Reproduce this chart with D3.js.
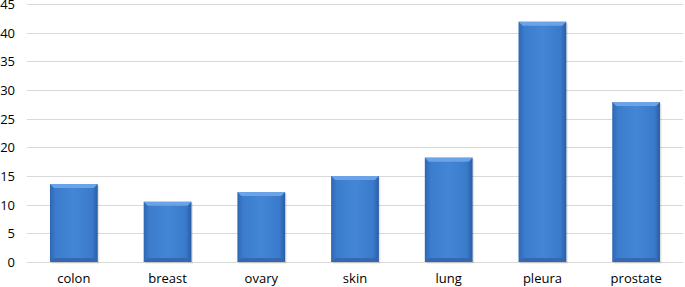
<!DOCTYPE html>
<html>
<head>
<meta charset="utf-8">
<script src="https://cdn.jsdelivr.net/npm/d3@7"></script>
<style>
  body { margin: 0; background: #fff; }
  text { font-family: "Open Sans", "Liberation Sans", sans-serif; font-size: 13px; fill: #000; }
</style>
</head>
<body>
<div id="chart"></div>
<script>
// dati
var categories = ["colon", "breast", "ovary", "skin", "lung", "pleura", "prostate"]
var values = [13.6, 10.5, 12.2, 15.0, 18.2, 41.9, 27.9]
var yTicks = [0, 5, 10, 15, 20, 25, 30, 35, 40, 45]

var width = 685, height = 287
var margin = {top: 4, right: 2, bottom: 25, left: 27}

var svg = d3.select("#chart").append("svg")
	.attr("width", width)
	.attr("height", height)

var x = d3.scaleBand()
	.domain(categories)
	.range([margin.left, width - margin.right])
	.paddingInner(0.49)
	.paddingOuter(0.245)

var y = d3.scaleLinear()
	.domain([0, 45])
	.range([height - margin.bottom, margin.top])

var defs = svg.append("defs")
var grad = defs.append("linearGradient").attr("id", "barGrad")
	.attr("x1", "0").attr("x2", "1").attr("y1", "0").attr("y2", "0")
grad.append("stop").attr("offset", "0%").attr("stop-color", "#2f66b3")
grad.append("stop").attr("offset", "12%").attr("stop-color", "#3b7ccc")
grad.append("stop").attr("offset", "50%").attr("stop-color", "#4486d6")
grad.append("stop").attr("offset", "88%").attr("stop-color", "#3a7acb")
grad.append("stop").attr("offset", "100%").attr("stop-color", "#2a5ca6")

// griglia
svg.append("g")
	.selectAll("line")
	.data(yTicks)
	.enter().append("line")
	.attr("x1", margin.left)
	.attr("x2", width - margin.right)
	.attr("y1", function(d) { return Math.round(y(d)) + 0.5 })
	.attr("y2", function(d) { return Math.round(y(d)) + 0.5 })
	.attr("stroke", "#d9d9d9")
	.attr("stroke-width", 1)

// asse y
var yAxis = svg.append("g")
	.attr("transform", "translate(" + (margin.left - 12) + ",0)")
	.call(d3.axisLeft(y).tickValues(yTicks).tickSize(0).tickPadding(0))
yAxis.select(".domain").remove()
yAxis.selectAll("text").attr("font-family", null).attr("font-size", null).attr("dy", "0.35em")

// asse x
var xAxis = svg.append("g")
	.attr("transform", "translate(0," + (height - margin.bottom) + ")")
	.call(d3.axisBottom(x).tickSize(0).tickPadding(12))
xAxis.select(".domain").remove()
xAxis.selectAll("text").attr("font-family", null).attr("font-size", null)

// barre
var bars = svg.append("g")
	.selectAll("g")
	.data(values)
	.enter().append("g")

var bev = 4

bars.append("rect")
	.attr("x", function(d, i) { return x(categories[i]) + 1.5 })
	.attr("y", function(d) { return y(d) + 1.5 })
	.attr("width", x.bandwidth())
	.attr("height", function(d) { return y(0) - y(d) })
	.attr("fill", "#000")
	.attr("opacity", 0.1)

bars.append("rect")
	.attr("x", function(d, i) { return x(categories[i]) })
	.attr("y", function(d) { return y(d) })
	.attr("width", x.bandwidth())
	.attr("height", function(d) { return y(0) - y(d) })
	.attr("fill", "url(#barGrad)")

// smusso superiore
bars.append("path")
	.attr("d", function(d, i) {
		var x0 = x(categories[i]), x1 = x0 + x.bandwidth(), t = y(d)
		return "M" + x0 + "," + t + "L" + x1 + "," + t + "L" + (x1 - bev) + "," + (t + bev) + "L" + (x0 + bev) + "," + (t + bev) + "Z"
	})
	.attr("fill", "#6aa3e6")

// smusso inferiore
bars.append("path")
	.attr("d", function(d, i) {
		var x0 = x(categories[i]), x1 = x0 + x.bandwidth(), b = y(0)
		return "M" + x0 + "," + b + "L" + x1 + "," + b + "L" + (x1 - bev) + "," + (b - bev) + "L" + (x0 + bev) + "," + (b - bev) + "Z"
	})
	.attr("fill", "#3468b0")
</script>
</body>
</html>
